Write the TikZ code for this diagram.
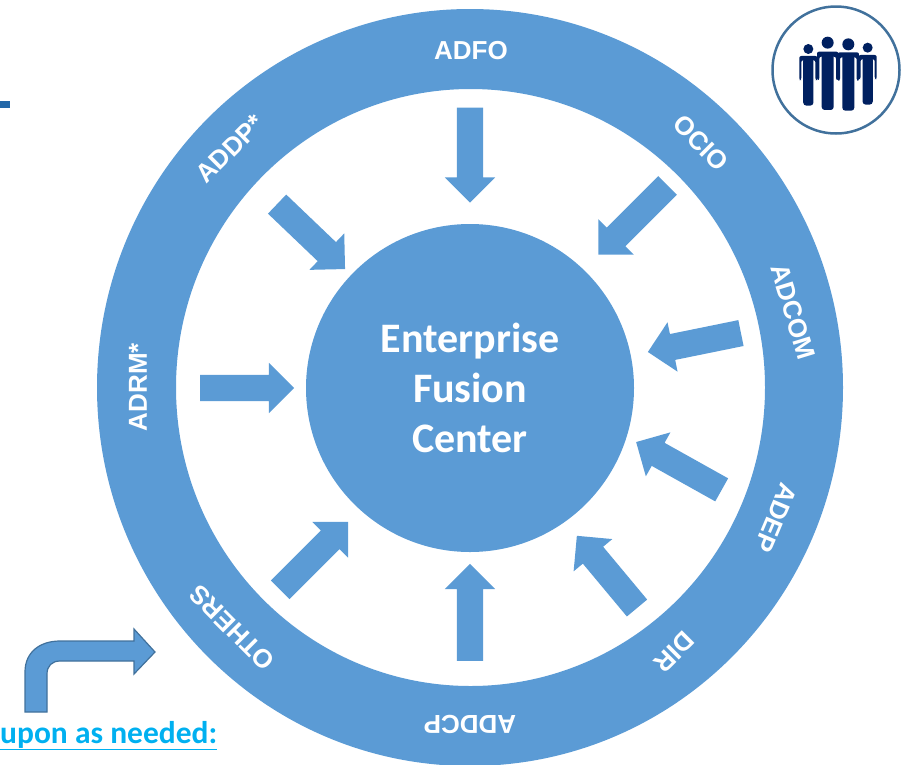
\documentclass[tikz,border=0pt]{standalone}
\usepackage{fontspec}
\setmainfont{Liberation Sans}
\newfontfamily\calibrifont{Carlito}
\usetikzlibrary{shapes.arrows}
\definecolor{ringblue}{HTML}{5B9BD5}
\definecolor{edgeblue}{HTML}{41719C}
\definecolor{navyblue}{HTML}{002060}
\definecolor{linkblue}{HTML}{00B0F0}
\definecolor{stubblue}{HTML}{2468A8}
\tikzset{
  ringlabel/.style={text=white, font=\bfseries\fontsize{26}{30}\selectfont, inner sep=0pt},
  flowarrow/.style={single arrow, fill=ringblue, inner xsep=0pt, inner ysep=13pt, minimum width=50pt,
    single arrow head extend=12pt, single arrow tip angle=90},
  person/.pic={
    \fill[rounded corners=2pt] (-32,85) -- (-32,0) -- (32,0) -- (32,85) -- (25,85) -- (25,15)
      -- (-25,15) -- (-25,85) -- cycle;
    \fill[rounded corners=3pt] (-18,5) rectangle (18,175);
  }
}
\begin{document}
\begin{tikzpicture}[x=1pt,y=-1pt]
\clip (0,0) rectangle (905,764);
\coordinate (hub) at (470,388);
% outer ring
\fill[ringblue, even odd rule] (470,387.5) ellipse (373 and 378.5) (470.5,387.5) ellipse (294.5 and 298.5);
\node[circle, fill=ringblue, minimum size=328pt, inner sep=0pt, text=white, align=center,
  font=\calibrifont\bfseries\fontsize{42}{50}\selectfont] (fusion) at (hub) {Enterprise\\Fusion\\Center};

% ring labels
\foreach \nm/\x/\y/\ang/\txt in {fo/471/51/0/ADFO, cio/701/143/-45/OCIO, com/793/312/-73/ADCOM,
  ep/776/518/-113/ADEP, dir/674/652/-135/DIR, dcp/470/724/180/ADDCP, oth/232/628/135/OTHERS,
  rm/138/387/90/ADRM*, dp/230/149/45/ADDP*}
\node[ringlabel, rotate=\ang] (\nm) at (\x,\y) {\txt};

% arrows into the center
\foreach \nm/\x/\y/\ang/\len in {fo/470/155/-90/95, cio/633/220/225/98, com/694.5/342.5/191.5/95,
  ep/679/466/150.8/98, dir/607/572/129.8/94, dcp/470/612.5/90/97, oth/314/556/45/96,
  rm/247/388/0/94, dp/311/236.5/-43.7/94}
\node[flowarrow, rotate=\ang, xshift=-6.5pt, minimum height=\len pt] (\nm arrow) at (\x,\y) {};

% bent arrow
\draw[fill=ringblue, draw=edgeblue, line width=1.2pt] (25,712) -- (25,672) .. controls (25,652) and (40,641) .. (60,641)
  -- (134,641) -- (134,629) -- (155,652) -- (134,674) -- (134,661) -- (60,661)
  .. controls (52,661) and (47,666) .. (47,674) -- (47,712) -- cycle;
\node[anchor=base west, inner sep=0pt, text=linkblue, font=\calibrifont\bfseries\fontsize{31.5}{36}\selectfont] (needed)
  at (0,743) {\underline{upon as needed:}};

% left stub
\fill[stubblue] (0,101) rectangle (10,108);

% group icon
\node[circle, draw=edgeblue, line width=2.5pt, minimum size=127pt, inner sep=0pt] (badge) at (836,70) {};
\begin{scope}[navyblue, shift={(760,0)}, scale=0.3333]
\fill (145,147) circle (15) (323,143) circle (15) (203,128) circle (18) (265,133) circle (18);
\pic[transform shape, scale=0.85] at (145,168) {person};
\pic[transform shape, scale=0.85] at (323,165) {person};
\pic[transform shape] at (203,155) {person};
\pic[transform shape] at (265,157) {person};
\end{scope}
\end{tikzpicture}
\end{document}
